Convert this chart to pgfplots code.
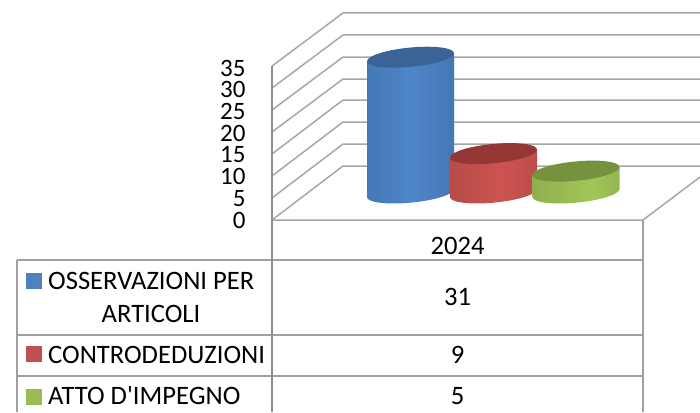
\documentclass[border=0pt]{standalone}
\usepackage{pgfplots}
\pgfplotsset{compat=1.18}
\usepackage{fontspec}
\setmainfont{Carlito}
\definecolor{gridc}{HTML}{A6A6A6}
\definecolor{tabc}{HTML}{A0A0A0}
\definecolor{tabd}{HTML}{8E8E8E}
\definecolor{ba}{HTML}{2F5A90}\definecolor{bb}{HTML}{3F72AE}\definecolor{bc}{HTML}{4F86C8}\definecolor{bt}{HTML}{3A6496}
\definecolor{ra}{HTML}{923836}\definecolor{rb}{HTML}{B04846}\definecolor{rc}{HTML}{CC5450}\definecolor{rt}{HTML}{953735}
\definecolor{ga}{HTML}{6F8A3C}\definecolor{gb}{HTML}{8AA84E}\definecolor{gc}{HTML}{A2C655}\definecolor{gt}{HTML}{76923C}
\definecolor{lb}{HTML}{4F81BD}\definecolor{lr}{HTML}{C0504D}\definecolor{lg}{HTML}{9BBB59}
\pgfdeclarehorizontalshading{cylblue}{100bp}{color(0bp)=(ba);color(14bp)=(bb);color(50bp)=(bc);color(86bp)=(bb);color(100bp)=(ba)}
\pgfdeclarehorizontalshading{cylred}{100bp}{color(0bp)=(ra);color(14bp)=(rb);color(55bp)=(rc);color(86bp)=(rb);color(100bp)=(ra)}
\pgfdeclarehorizontalshading{cylgreen}{100bp}{color(0bp)=(ga);color(14bp)=(gb);color(60bp)=(gc);color(86bp)=(gb);color(100bp)=(ga)}
\pgfdeclareplotmark{cyltop}{\pgfpathellipse{\pgfpointorigin}{\pgfpoint{43.5pt}{4pt}}{\pgfpoint{0pt}{9.7pt}}\pgfusepathqfill}
\pgfdeclareplotmark{basecylblue}{\pgfpathellipse{\pgfpointorigin}{\pgfpoint{43.5pt}{4pt}}{\pgfpoint{0pt}{9.7pt}}\pgfshadepath{cylblue}{0}\pgfusepath{discard}}
\pgfdeclareplotmark{basecylred}{\pgfpathellipse{\pgfpointorigin}{\pgfpoint{43.5pt}{4pt}}{\pgfpoint{0pt}{9.7pt}}\pgfshadepath{cylred}{0}\pgfusepath{discard}}
\pgfdeclareplotmark{basecylgreen}{\pgfpathellipse{\pgfpointorigin}{\pgfpoint{43.5pt}{4pt}}{\pgfpoint{0pt}{9.7pt}}\pgfshadepath{cylgreen}{0}\pgfusepath{discard}}
\newcommand{\cyl}[4]{%
\begin{axis}[at={(#1pt,219pt)},anchor=origin,x={(1pt,0.092pt)},y={(0pt,4.38pt)},
  xmin=-43.5,xmax=43.5,ymin=0,ymax=35,hide axis,clip=false,disabledatascaling]
\addplot[only marks,mark=base#3] coordinates {(0,0)};
\addplot[draw=none,shading=#3] coordinates {(-43.5,0)(43.5,0)(43.5,#2)(-43.5,#2)} -- cycle;
\addplot[only marks,mark=cyltop,mark options={fill=#4,draw=none}] coordinates {(0,#2)};
\end{axis}}
\newcommand{\tabfont}{\fontsize{26.6}{26.6}\selectfont}
\begin{document}
\begin{tikzpicture}
\path[use as bounding box] (0pt,0pt) rectangle (700pt,412pt);
\begin{axis}[at={(0pt,0pt)},anchor=south west,width=700pt,height=412pt,scale only axis,
  xmin=0,xmax=700,ymin=0,ymax=412,y dir=reverse,hide axis,clip=true]
\addplot[gridc,line width=1.5pt] coordinates {(272,66)(343,13)(700,13)};
\addplot[gridc,line width=1.5pt] coordinates {(272,88)(343,35)(700,35)};
\addplot[gridc,line width=1.5pt] coordinates {(272,110)(343,57)(700,57)};
\addplot[gridc,line width=1.5pt] coordinates {(272,132)(343,79)(700,79)};
\addplot[gridc,line width=1.5pt] coordinates {(272,154)(343,100)(700,100)};
\addplot[gridc,line width=1.5pt] coordinates {(272,176)(343,122)(700,122)};
\addplot[gridc,line width=1.5pt] coordinates {(272,198)(343,144)(700,144)};
\addplot[gridc,line width=1.5pt] coordinates {(272,220)(343,166)(700,166)};
\addplot[gridc,line width=1.5pt] coordinates {(272,220)(643,220)(700,177)};
\addplot[tabc,line width=1.5pt] coordinates {(17,260)(643,260)};
\addplot[tabc,line width=1.5pt] coordinates {(17,335)(643,335)};
\addplot[tabc,line width=1.5pt] coordinates {(17,376)(643,376)};
\addplot[tabc,line width=1.5pt] coordinates {(17,260)(17,412)};
\addplot[tabc,line width=1.5pt] coordinates {(643,220)(643,412)};
\addplot[tabd,line width=1.8pt] coordinates {(272,66)(272,412)};
\end{axis}
\begin{axis}[at={(272pt,192pt)},anchor=south west,width=371pt,height=152pt,scale only axis,
  xmin=0,xmax=1,ymin=0,ymax=35,ytick={0,5,10,15,20,25,30,35},xtick=\empty,
  axis y line=left,axis x line=none,y axis line style={draw=none,-},
  major tick length=0pt,clip=false,
  /pgf/number format/assume math mode=true,
  yticklabel style={font=\fontsize{25}{25}\selectfont,anchor=east,xshift=-23pt}]
\addplot[draw=none] coordinates {(0,0)(1,35)};
\end{axis}
\cyl{410.5}{31}{cylblue}{bt}
\cyl{493.5}{9}{cylred}{rt}
\cyl{576}{5}{cylgreen}{gt}
\begin{axis}[at={(0pt,0pt)},anchor=south west,width=700pt,height=412pt,scale only axis,
  xmin=0,xmax=700,ymin=0,ymax=412,y dir=reverse,hide axis,clip=false]
\addplot[only marks,color=lb,mark=square*,mark size=7.5pt,mark options={solid,fill=lb,draw=lb,line width=0pt}] coordinates {(33.5,280.5)};
\addplot[only marks,color=lr,mark=square*,mark size=7.5pt,mark options={solid,fill=lr,draw=lr,line width=0pt}] coordinates {(33.5,354)};
\addplot[only marks,color=lg,mark=square*,mark size=7.5pt,mark options={solid,fill=lg,draw=lg,line width=0pt}] coordinates {(33.5,396.5)};
\node[anchor=base west,inner sep=0pt,font=\tabfont] at (axis cs:48,289) {OSSERVAZIONI PER};
\node[anchor=base,inner sep=0pt,font=\tabfont] at (axis cs:151,322) {ARTICOLI};
\node[anchor=base west,inner sep=0pt,font=\tabfont] at (axis cs:48,363) {CONTRODEDUZIONI};
\node[anchor=base west,inner sep=0pt,font=\tabfont] at (axis cs:48,404.5) {ATTO D\textquotesingle IMPEGNO};
\node[anchor=base,inner sep=0pt,font=\tabfont] at (axis cs:457.5,254) {2024};
\node[anchor=base,inner sep=0pt,font=\tabfont] at (axis cs:457.5,305) {31};
\node[anchor=base,inner sep=0pt,font=\tabfont] at (axis cs:457.5,363) {9};
\node[anchor=base,inner sep=0pt,font=\tabfont] at (axis cs:457.5,404) {5};
\end{axis}
\end{tikzpicture}
\end{document}
